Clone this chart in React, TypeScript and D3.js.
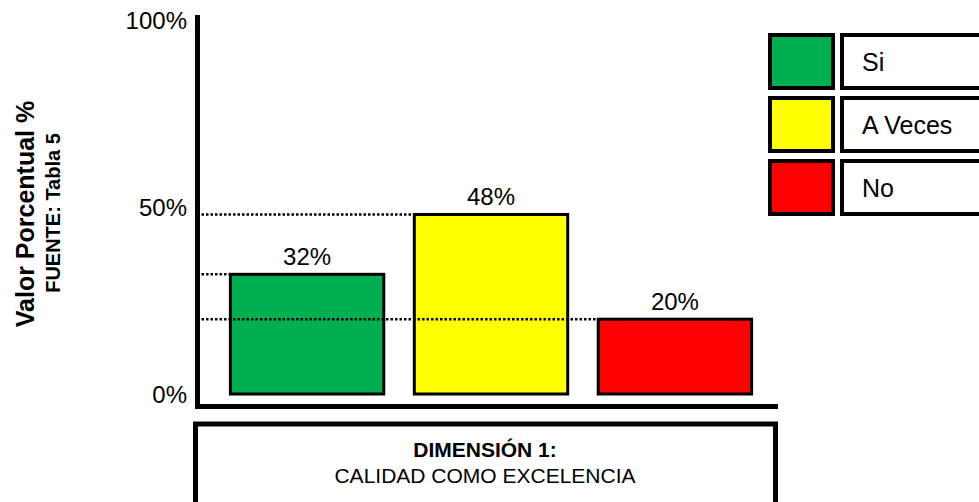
import React from "react";
import * as d3 from "d3";

const categories = ["Si", "A Veces", "No"];
const values = [32, 48, 20];
const colors = ["#00B050", "#FFFF00", "#FF0000"];
const yTicks = [0, 50, 100];
const yTitle = "Valor Porcentual %";
const ySubtitle = "FUENTE: Tabla 5";
const boxTitle = "DIMENSIÓN 1:";
const boxSubtitle = "CALIDAD COMO EXCELENCIA";

const W = 979;
const H = 502;
const FONT = "Arial, 'Liberation Sans', sans-serif";

export default function App() {
  const x = d3
    .scaleBand<string>()
    .domain(categories)
    .range([212, 770])
    .paddingInner(0.166)
    .paddingOuter(0.1);
  const y = d3.scaleLinear().domain([0, 100]).range([394, 20]);

  const axisX = 197.5;
  const axisY = 406.5;

  return (
    <svg
      width={W}
      height={H}
      style={{ position: "absolute", left: 0, top: 0, display: "block" }}
      fontFamily={FONT}
    >
      <rect x={0} y={0} width={W} height={H} fill="#fff" />

      {/* axis titles */}
      <text
        transform={`translate(34,214) rotate(-90)`}
        textAnchor="middle"
        fontWeight="bold"
        fontSize={25}
        fill="#000"
      >
        {yTitle}
      </text>
      <text
        transform={`translate(60,213) rotate(-90)`}
        textAnchor="middle"
        fontWeight="bold"
        fontSize={20}
        fill="#000"
      >
        {ySubtitle}
      </text>

      {/* tick labels */}
      {yTicks.map((t) => (
        <text
          key={t}
          x={187}
          y={y(t)}
          dy="0.36em"
          textAnchor="end"
          fontSize={24}
          fill="#000"
        >
          {`${t}%`}
        </text>
      ))}

      {/* bars */}
      {categories.map((c, i) => (
        <rect
          key={c}
          x={x(c)!}
          y={y(values[i])}
          width={x.bandwidth()}
          height={y(0) - y(values[i])}
          fill={colors[i]}
          stroke="#000"
          strokeWidth={3}
        />
      ))}

      {/* dotted reference lines from the axis to each bar */}
      {categories.map((c, i) => (
        <line
          key={`ref-${c}`}
          x1={axisX + 4}
          x2={x(c)!}
          y1={y(values[i])}
          y2={y(values[i])}
          stroke="#000"
          strokeWidth={2.5}
          strokeDasharray="2.5,2"
        />
      ))}

      {/* value labels */}
      {categories.map((c, i) => (
        <text
          key={`lbl-${c}`}
          x={x(c)! + x.bandwidth() / 2}
          y={y(values[i]) - 9}
          textAnchor="middle"
          fontSize={24}
          fill="#000"
        >
          {`${values[i]}%`}
        </text>
      ))}

      {/* axes */}
      <line x1={axisX} x2={axisX} y1={15} y2={409} stroke="#000" strokeWidth={5} />
      <line x1={195} x2={778} y1={axisY} y2={axisY} stroke="#000" strokeWidth={5} />

      {/* category box */}
      <rect
        x={195.5}
        y={424}
        width={580}
        height={100}
        fill="#fff"
        stroke="#000"
        strokeWidth={5}
      />
      <text x={485} y={457} textAnchor="middle" fontWeight="bold" fontSize={21} fill="#000">
        {boxTitle}
      </text>
      <text x={485} y={483} textAnchor="middle" fontSize={21} fill="#000">
        {boxSubtitle}
      </text>

      {/* legend */}
      {categories.map((c, i) => {
        const top = 35 + i * 63;
        return (
          <g key={`leg-${c}`}>
            <rect
              x={770}
              y={top}
              width={63}
              height={53}
              fill={colors[i]}
              stroke="#000"
              strokeWidth={4}
            />
            <rect
              x={842}
              y={top}
              width={200}
              height={53}
              fill="#fff"
              stroke="#000"
              strokeWidth={4}
            />
            <text x={862} y={top + 36} fontSize={25} fill="#000">
              {c}
            </text>
          </g>
        );
      })}
    </svg>
  );
}
